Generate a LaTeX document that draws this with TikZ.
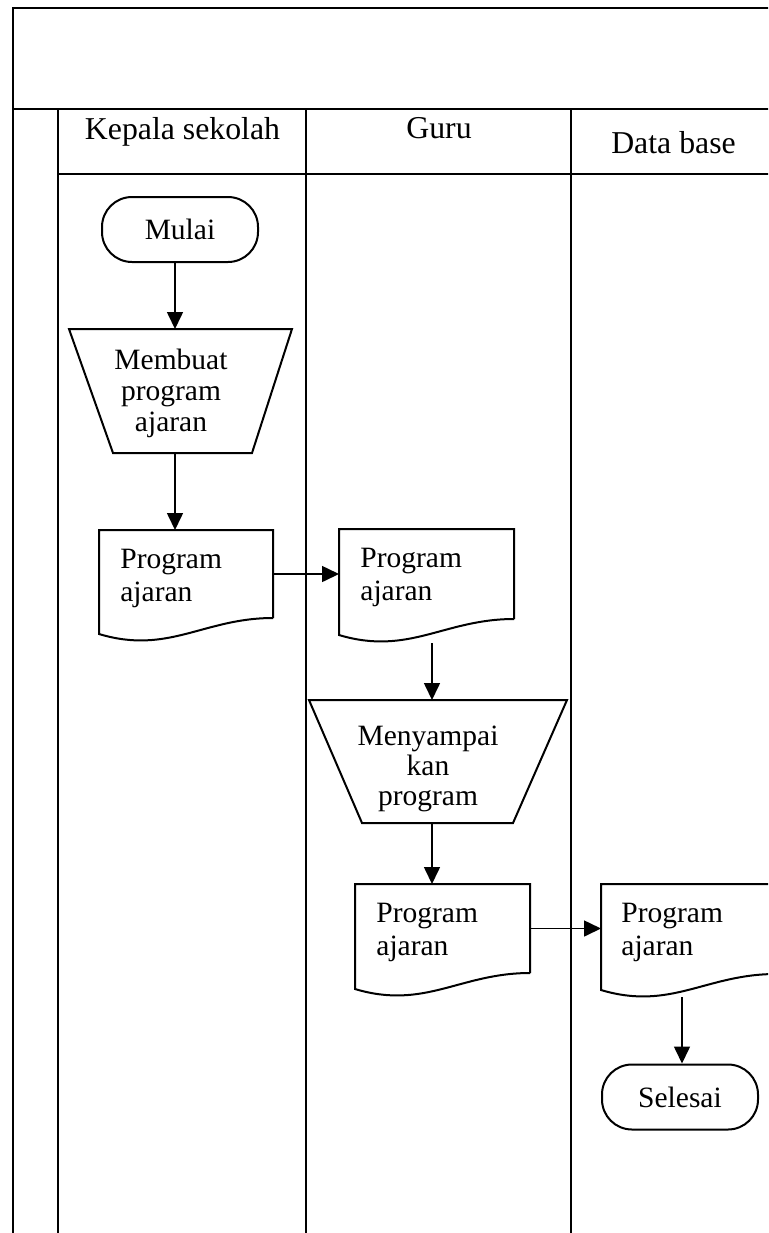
\documentclass[tikz,border=0pt]{standalone}
\usepackage{fontspec}
\setmainfont{Liberation Serif}
\usetikzlibrary{arrows.meta,calc}

\newcommand\flowfont{\fontsize{14.75}{16.5}\selectfont}
\newcommand\lanefont{\fontsize{15.9}{19}\selectfont}

% document symbol: straight top and sides, wavy bottom edge
\newcommand\docoutline[1]{%
  \draw[shapeline] (#1.south east) -- (#1.north east) -- (#1.north west)
    -- ($(#1.south west)+(0,16)$)
    .. controls ($(#1.south west)!0.4!(#1.south east)+(0,37)$)
    and ($(#1.south west)!0.6!(#1.south east)$) .. (#1.south east);}

% manual-operation symbol: wide top, narrow bottom (node, left inset, right inset)
\newcommand\trapoutline[3]{%
  \draw[shapeline] (#1.north west) -- (#1.north east)
    -- ($(#1.south east)+(-#3,0)$) -- ($(#1.south west)+(#2,0)$) -- cycle;}

\begin{document}
\begin{tikzpicture}[x=0.5pt,y=-0.5pt,
  frame/.style={line width=0.6pt},
  shapeline/.style={line width=1pt, line join=miter},
  box/.style={inner sep=0pt, outer sep=0pt},
  terminal/.style={draw, line width=1pt, rounded corners=15pt,
    minimum width=78pt, minimum height=32.5pt, inner sep=0pt, font=\flowfont},
  lanehead/.style={anchor=base, inner sep=0pt, font=\lanefont},
  body/.style={inner sep=0pt, font=\flowfont, align=left},
  arr/.style={line width=0.8pt, -{Triangle[length=8.5pt,width=8pt]}}]

\useasboundingbox (0,0) rectangle (768,1233);
\clip (0,0) rectangle (768,1233);

% swimlane frame
\draw[frame] (13,1240) -- (13,8) -- (780,8);
\draw[frame] (13,109) -- (780,109);
\draw[frame] (58,1240) -- (58,109);
\draw[frame] (58,174) -- (780,174);
\draw[frame] (306,109) -- (306,1240);
\draw[frame] (571,109) -- (571,1240);

% lane headings
\node[lanehead] (hkepala) at (182.5,139) {Kepala sekolah};
\node[lanehead] (hguru) at (439,138) {Guru};
\node[lanehead] (hdb) at (673.5,153) {Data base};

% flow lines run at these x positions
\coordinate (lane1x) at (175,0);
\coordinate (lane2x) at (432,0);
\coordinate (lane3x) at (682,0);

% start / end
\node[terminal] (mulai) at (180,229.5) {Mulai};
\node[terminal] (selesai) at (680,1097) {Selesai};

% manual operations
\node[box, minimum width=111.5pt, minimum height=62pt] (t1) at (180.5,391) {};
\trapoutline{t1}{44}{40}
\node[body, align=center, font=\fontsize{14.75}{15.5}\selectfont] (t1text) at (171,393.5)
  {Membuat\\program\\ajaran};

\node[box, minimum width=129pt, minimum height=61.5pt] (t2) at (438,761.5) {};
\trapoutline{t2}{53}{54}
\node[body, align=center, font=\fontsize{14.75}{15}\selectfont] (t2text) at (428,768.5)
  {Menyampai\\kan\\program};

% documents
\node[box, minimum width=87pt, minimum height=44pt] (d1) at (186,574) {};
\docoutline{d1}
\node[body, anchor=north west] (d1text) at ($(d1.north west)+(21,18.5)$) {Program\\ajaran};

\node[box, minimum width=87.5pt, minimum height=45pt] (d2) at (426.5,574) {};
\docoutline{d2}
\node[body, anchor=north west] (d2text) at ($(d2.north west)+(21,18.5)$) {Program\\ajaran};

\node[box, minimum width=87.5pt, minimum height=44.5pt] (d3) at (442.5,928.5) {};
\docoutline{d3}
\node[body, anchor=north west] (d3text) at ($(d3.north west)+(21,18.5)$) {Program\\ajaran};

\node[box, minimum width=87.5pt, minimum height=45pt] (d4) at (688.5,929) {};
\docoutline{d4}
\node[body, anchor=north west] (d4text) at ($(d4.north west)+(20,18.5)$) {Program\\ajaran};

% connectors
\draw[arr] (mulai.south -| lane1x) -- (t1.north -| lane1x);
\draw[arr] (t1.south -| lane1x) -- (d1.north -| lane1x);
\draw[arr] (d1.east) -- (d2.west);
\coordinate (d2out) at ($(d2.south -| lane2x)+(0,24)$);
\draw[arr] (d2out) -- (t2.north -| lane2x);
\draw[arr] (t2.south -| lane2x) -- (d3.north -| lane2x);
\draw[arr] (d3.east) -- (d3.east -| d4.west);
\coordinate (d4out) at ($(d4.south -| lane3x)+(0,23)$);
\draw[arr] (d4out) -- (selesai.north -| lane3x);

\end{tikzpicture}
\end{document}
